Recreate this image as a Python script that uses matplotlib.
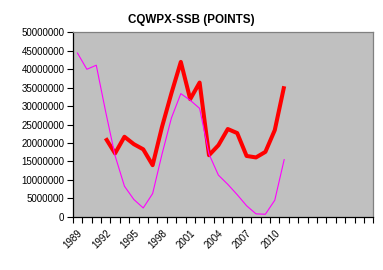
import numpy as np
import matplotlib
matplotlib.use("Agg")
import matplotlib.pyplot as plt
from matplotlib.ticker import FixedLocator

# category axis: one slot per year, 1989..2020 (only part of it has data)
years = list(range(1989, 2021))
label_years = [1989, 1992, 1995, 1998, 2001, 2004, 2007, 2010]

# thin magenta series, 1989-2011
magenta_years = list(range(1989, 2012))
magenta_vals = [44.4e6, 40.0e6, 41.1e6, 28.5e6, 16.6e6, 8.3e6, 4.7e6, 2.4e6,
                6.3e6, 17.0e6, 26.8e6, 33.4e6, 31.6e6, 29.4e6, 17.0e6, 11.3e6,
                8.8e6, 6.0e6, 3.0e6, 0.8e6, 0.7e6, 4.5e6, 15.5e6]

# thick red series, 1992-2011
red_years = list(range(1992, 2012))
red_vals = [21.3e6, 17.2e6, 21.7e6, 19.7e6, 18.3e6, 14.0e6, 24.4e6, 33.5e6,
            42.0e6, 31.9e6, 36.4e6, 16.7e6, 19.4e6, 23.8e6, 22.7e6, 16.5e6,
            16.1e6, 17.6e6, 23.5e6, 35.4e6]

y_ticks = list(range(0, 50000001, 5000000))

plt.rcParams["font.family"] = ["Liberation Sans", "DejaVu Sans"]

fig = plt.figure(figsize=(3.83, 2.70), dpi=100)
ax = fig.add_axes([0.19, 0.197, 0.785, 0.683])
ax.set_facecolor("#C0C0C0")

pos = {y: i for i, y in enumerate(years)}
ax.plot([pos[y] for y in red_years], red_vals, color="#FF0000", linewidth=2.9,
        solid_joinstyle="round", solid_capstyle="butt", zorder=2)
ax.plot([pos[y] for y in magenta_years], magenta_vals, color="#FF00FF",
        linewidth=0.8, zorder=3)

ax.set_xlim(-0.5, len(years) - 0.5)
ax.set_ylim(0, 50000000)

# tick marks sit between categories, labels at category centres
ax.xaxis.set_major_locator(FixedLocator(np.arange(-0.5, len(years), 1.0)))
ax.tick_params(axis="x", which="major", length=4, width=0.8, labelbottom=False,
               direction="out", color="black")
ax.set_xticks([pos[y] for y in label_years], minor=True)
ax.set_xticklabels([str(y) for y in label_years], minor=True, rotation=45,
                   ha="right", va="top", rotation_mode="anchor", fontsize=7)
ax.tick_params(axis="x", which="minor", length=0, pad=8)

ax.set_yticks(y_ticks)
ax.set_yticklabels([str(v) for v in y_ticks], fontsize=7)
ax.tick_params(axis="y", length=4, width=0.8, pad=2, color="black")

for side in ("top", "right"):
    ax.spines[side].set_color("#808080")
    ax.spines[side].set_linewidth(0.9)
for side in ("left", "bottom"):
    ax.spines[side].set_color("black")
    ax.spines[side].set_linewidth(0.9)

fig.text(0.5, 0.925, "CQWPX-SSB (POINTS)", ha="center", va="center",
         fontsize=8.4, fontweight="bold")

fig.savefig("out.png", dpi=100, facecolor="white")
